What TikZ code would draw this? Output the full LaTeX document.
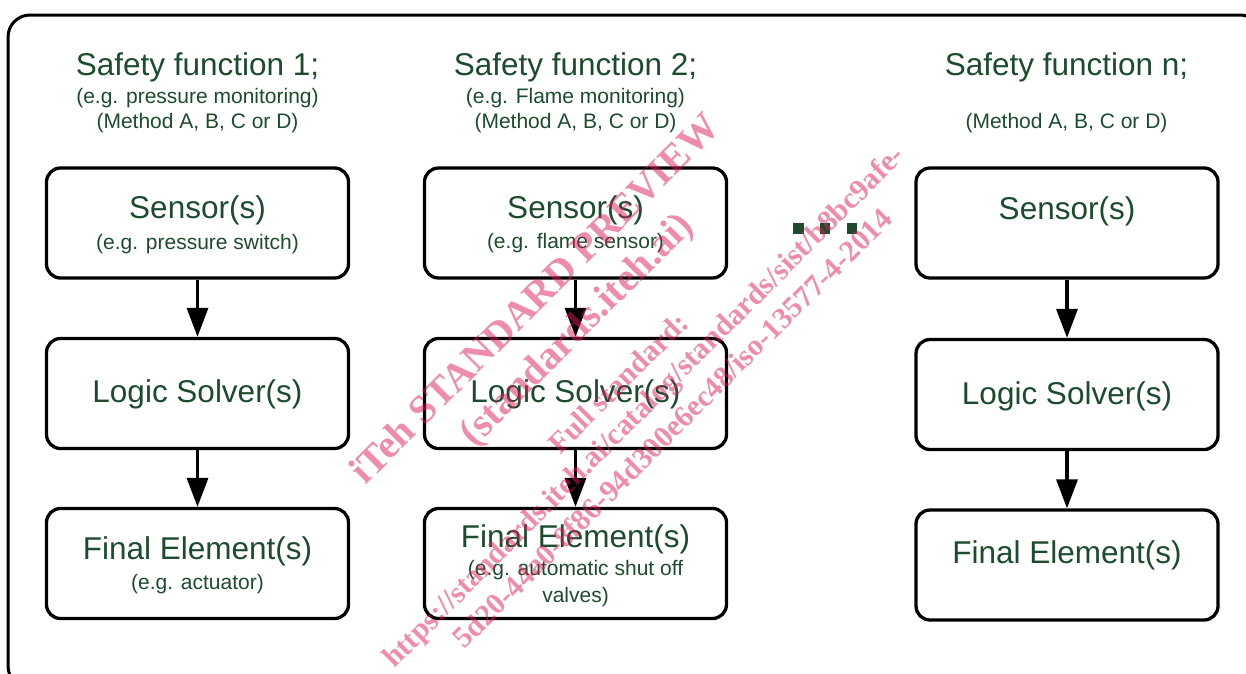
\documentclass[tikz,border=0pt]{standalone}
\usepackage{fontspec}
\setmainfont{Liberation Sans}
\newfontfamily\wmfont{Liberation Serif}
\usetikzlibrary{arrows.meta}
\definecolor{txtgreen}{RGB}{28,76,45}
\definecolor{wmpink}{RGB}{222,28,88}
\begin{document}
\begin{tikzpicture}[x=1pt,y=-1pt,
  box/.style={draw=black, line width=3.3pt, rounded corners=14pt,
    minimum width=302pt, minimum height=110pt, inner sep=0pt},
  big/.style={text=txtgreen, font=\fontsize{31.5}{36}\selectfont, anchor=base, inner sep=0pt},
  small/.style={text=txtgreen, font=\fontsize{21}{25}\selectfont, anchor=base, inner sep=0pt},
  flow/.style={line width=3.3pt, -{Triangle[length=29pt,width=21pt]}},
  dotsq/.style={fill=txtgreen, minimum size=10.5pt, inner sep=0pt},
  wmbig/.style={text=wmpink, text opacity=0.5, rotate=45, inner sep=0pt,
    font=\wmfont\bfseries\fontsize{40}{48}\selectfont},
  wmsmall/.style={text=wmpink, text opacity=0.5, rotate=45, inner sep=0pt,
    font=\wmfont\bfseries\fontsize{30}{36}\selectfont}
]
\useasboundingbox (0,0) rectangle (1246,673);
\clip (0,0) rectangle (1246,673);

% outer frame
\draw[line width=3pt, rounded corners=22pt] (8,15) rectangle (1262,688);

% column 1
\node[big]   (t1)  at (197.5,75)    {Safety function 1;};
\node[small] (t1a) at (197.5,103)   {(e.g. pressure monitoring)};
\node[small] (t1b) at (197.5,128.5) {(Method A, B, C or D)};
\node[box]   (s1)  at (197.5,223)   {};
\node[big]   (s1t) at (197.5,218)   {Sensor(s)};
\node[small] (s1s) at (197.5,249)   {(e.g. pressure switch)};
\node[box]   (l1)  at (197.5,393.5) {};
\node[big]   (l1t) at (197.5,402.5) {Logic Solver(s)};
\node[box]   (f1)  at (197.5,563.5) {};
\node[big]   (f1t) at (197.5,559)   {Final Element(s)};
\node[small] (f1s) at (197.5,589)   {(e.g. actuator)};
\draw[flow] (s1) -- (l1);
\draw[flow] (l1) -- (f1);

% column 2
\node[big]   (t2)  at (575.5,75)    {Safety function 2;};
\node[small] (t2a) at (575.5,103)   {(e.g. Flame monitoring)};
\node[small] (t2b) at (575.5,128.5) {(Method A, B, C or D)};
\node[box]   (s2)  at (575.5,223)   {};
\node[big]   (s2t) at (575.5,218)   {Sensor(s)};
\node[small] (s2s) at (575.5,248)   {(e.g. flame sensor)};
\node[box]   (l2)  at (575.5,393.5) {};
\node[big]   (l2t) at (575.5,402.5) {Logic Solver(s)};
\node[box]   (f2)  at (575.5,563.5) {};
\node[big]   (f2t) at (575.5,547)   {Final Element(s)};
\node[small] (f2s) at (575.5,575)   {(e.g. automatic shut off};
\node[small] (f2u) at (575.5,602)   {valves)};
\draw[flow] (s2) -- (l2);
\draw[flow] (l2) -- (f2);

% continuation marks
\node[dotsq] (d1) at (798.5,228.5) {};
\node[dotsq] (d2) at (825,228.5)   {};
\node[dotsq] (d3) at (852,228.5)   {};

% column n
\node[big]   (t3)  at (1066.5,75)    {Safety function n;};
\node[small] (t3b) at (1066.5,128.5) {(Method A, B, C or D)};
\node[box]   (s3)  at (1067,223)     {};
\node[big]   (s3t) at (1067,219)     {Sensor(s)};
\node[box]   (l3)  at (1067,394.5)   {};
\node[big]   (l3t) at (1067,404)     {Logic Solver(s)};
\node[box]   (f3)  at (1067,565)     {};
\node[big]   (f3t) at (1067,563)     {Final Element(s)};
\draw[flow] (s3) -- (l3);
\draw[flow] (l3) -- (f3);

% diagonal overlay lettering
\node[wmbig]   (w1) at (534,298) {iTeh STANDARD PREVIEW};
\node[wmbig]   (w2) at (578,331) {(standards.iteh.ai)};
\node[wmsmall] (w3) at (618,383) {Full standard:};
\node[wmsmall] (w4) at (645,408) {https://standards.iteh.ai/catalog/standards/sist/b8bc9afe-};
\node[wmsmall] (w5) at (672,428) {5d20-44a0-8f86-94d300e6ec48/iso-13577-4-2014};
\end{tikzpicture}
\end{document}
